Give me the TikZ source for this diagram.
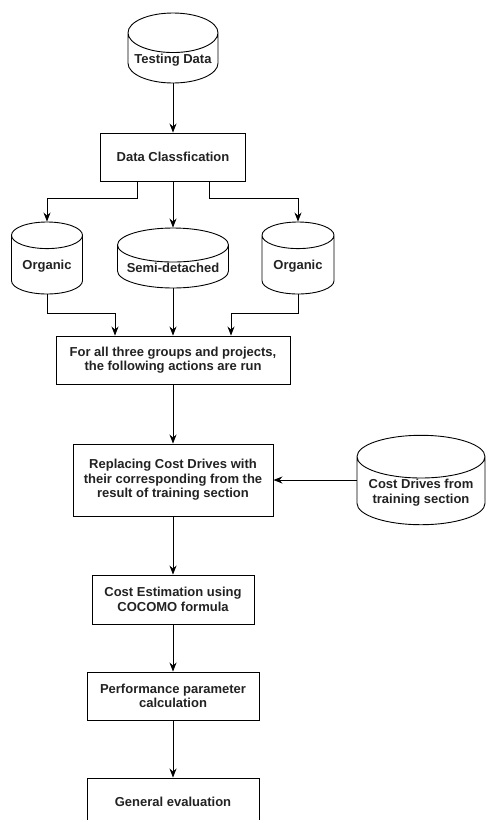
\documentclass[tikz,border=0pt]{standalone}
\usepackage{fontspec}
\setmainfont{Liberation Sans}
\usetikzlibrary{shapes.geometric,arrows.meta}
\definecolor{textgray}{HTML}{222222}

\begin{document}
\begin{tikzpicture}[x=1pt,y=-1pt,
	font=\fontsize{13}{14.5}\selectfont\bfseries,
	box/.style={shape=rectangle,draw=black,line width=0.9pt,align=center,text=textgray,inner sep=2pt},
	db/.style={shape=cylinder,shape border rotate=90,anchor=shape center,draw=black,line width=0.9pt,align=center,text=textgray,inner sep=1pt},
	flow/.style={-{Stealth[length=9pt,width=7pt]},line width=0.9pt}]
	\useasboundingbox (0,0) rectangle (486,820);

	\node[db,aspect=0.5,minimum width=90pt,minimum height=70pt] (td) at (173, 48)     {Testing Data};
	\node[box,minimum width=145pt,minimum height=48pt] (dc) at (173, 157)     {Data Classfication};
	\node[db,aspect=0.52,minimum width=71pt,minimum height=72pt] (org1) at (47, 258)     {Organic};
	\node[db,aspect=0.36,minimum width=111pt,minimum height=60pt] (semi) at (173, 258)     {Semi-detached};
	\node[db,aspect=0.52,minimum width=72pt,minimum height=72pt] (org2) at (298, 258)     {Organic};
	\node[box,minimum width=234pt,minimum height=48pt] (grp) at (173, 360)     {For all three groups and projects,\\the following actions are run};
	\node[box,minimum width=200pt,minimum height=72pt] (rep) at (173, 480)     {Replacing Cost Drives with\\their corresponding from the\\result of training section};
	\node[db,aspect=0.4,minimum width=128pt,minimum height=73pt] (cdt) at (421, 480)     {Cost Drives from\\training section};
	\node[box,minimum width=162pt,minimum height=49pt] (est) at (173, 599.5)     {Cost Estimation using\\COCOMO formula};
	\node[box,minimum width=172pt,minimum height=48pt] (perf) at (173, 696)     {Performance parameter\\calculation};
	\node[box,minimum width=172pt,minimum height=48pt] (gen) at (173, 802)     {General evaluation};

	\draw[flow] (td.south) -- (dc.north);
	\draw[flow] ([xshift=-36pt]dc.south) -- ++(0,17) -| (org1.north);
	\draw[flow] (dc.south) -- (dc.south |- semi.north);
	\draw[flow] ([xshift=36pt]dc.south) -- ++(0,17) -| (org2.north);
	\draw[flow] (org1.south) -- ++(0,19) -| ([xshift=-58pt]grp.north);
	\draw[flow] (semi.south) -- (grp.north);
	\draw[flow] (org2.south) -- ++(0,19) -| ([xshift=58pt]grp.north);
	\draw[flow] (grp.south) -- (rep.north);
	\draw[flow] (cdt.west |- rep.east) -- (rep.east);
	\draw[flow] (rep.south) -- (est.north);
	\draw[flow] (est.south) -- (perf.north);
	\draw[flow] (perf.south) -- (gen.north);

\end{tikzpicture}
\end{document}
